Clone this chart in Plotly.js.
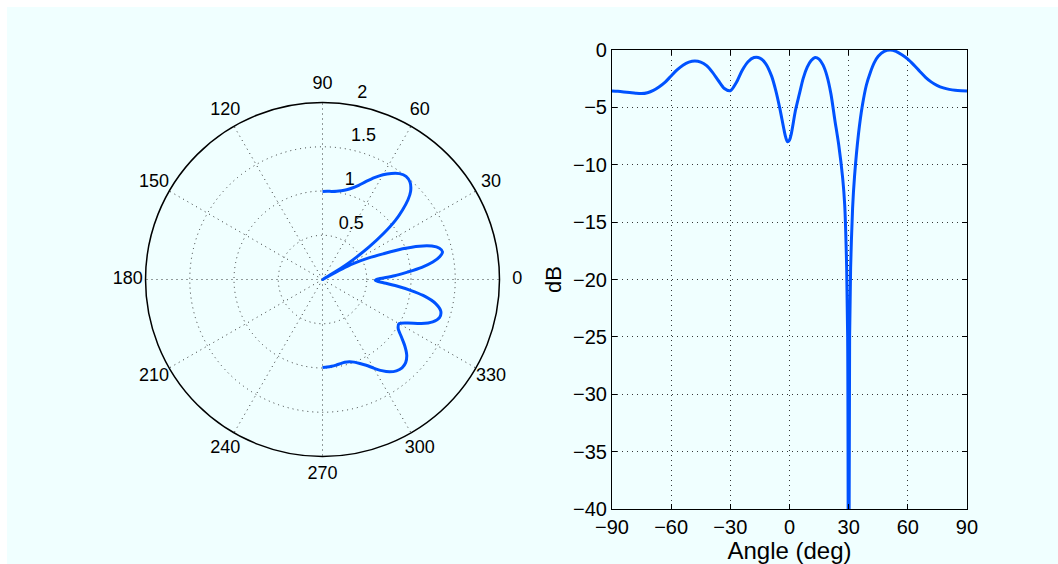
<!DOCTYPE html>
<html>
<head>
<meta charset="utf-8">
<script src="https://cdn.plot.ly/plotly-3.0.1.min.js"></script>
<style>
  html, body { margin: 0; padding: 0; background: #ffffff; }
  #chart { position: absolute; left: 7px; top: 7px; width: 1051px; height: 557px; }
</style>
</head>
<body>
<div id="chart"></div>
<script>
// Angle (deg) of each sample
const angles = [-90,-87,-84,-81,-78,-75,-72,-69,-66,-63,-60,-57,-54,-51,-48,-45,-42,-39,-36,-33,-30,-27,-24,-21,-18,-15,-12,-9,-7,-5,-3,-2,-1,0,1,3,5,7,9,11,13,15,17,19,21,23,25,27,28,29,29.5,30,30.5,31,32,33,35,37,39,41,43,45,48,51,54,57,60,63,66,69,72,75,78,81,84,87,90];
// Pattern in dB (right panel)
const patternDb = [-3.57,-3.60,-3.65,-3.71,-3.77,-3.80,-3.72,-3.52,-3.20,-2.80,-2.26,-1.74,-1.32,-1.06,-0.96,-1.05,-1.37,-1.95,-2.68,-3.35,-3.55,-2.85,-1.78,-1.02,-0.66,-0.70,-1.20,-2.30,-3.50,-5.00,-6.75,-7.55,-8.00,-7.85,-7.25,-5.30,-3.85,-2.45,-1.50,-0.92,-0.65,-0.80,-1.30,-2.25,-3.80,-6.10,-8.30,-11.2,-13.5,-19.0,-25,-60,-25,-19.0,-13.8,-11.0,-7.3,-4.8,-3.05,-1.95,-1.10,-0.55,-0.12,0,-0.12,-0.42,-0.80,-1.30,-1.85,-2.38,-2.80,-3.10,-3.30,-3.43,-3.51,-3.55,-3.57];
// Pattern magnitude (left polar panel)
const patternMag = [0.995,0.991,0.986,0.979,0.972,0.969,0.977,1.000,1.038,1.087,1.156,1.228,1.289,1.328,1.343,1.329,1.281,1.198,1.101,1.020,0.998,1.080,1.222,1.334,1.390,1.384,1.307,1.151,1.002,0.843,0.689,0.629,0.597,0.608,0.651,0.815,0.963,1.131,1.262,1.349,1.392,1.368,1.292,1.158,0.969,0.743,0.577,0.413,0.317,0.168,0.084,0.0015,0.084,0.168,0.306,0.423,0.647,0.863,1.057,1.198,1.321,1.408,1.479,1.5,1.479,1.429,1.368,1.292,1.213,1.140,1.087,1.050,1.026,1.010,1.001,0.998,0.995];

// Tick labels
const polarAngleTicks = [0,30,60,90,120,150,180,210,240,270,300,330];
const polarAngleLabels = ['0','30','60','90','120','150','180','210','240','270','300','330'];
const polarRadialTicks = [0.5,1,1.5,2];
const polarRadialLabels = ['0.5','1','1.5','2'];
const xTicks = [-90,-60,-30,0,30,60,90];
const yTicks = [0,-5,-10,-15,-20,-25,-30,-35,-40];

const BLUE = 'rgb(0,82,255)';
const FONT = 'Liberation Sans, Arial, Helvetica, sans-serif';
const GRID = 'rgba(20,20,20,0.85)';
const RMAX = 2;

// Label placement, MATLAB polar style: angle labels at 1.1*rmax,
// radial labels just outside each ring along the 82 degree spoke.
const deg = Math.PI / 180;
const radLabelShift = 0.11; // small rightward offset of ring labels (data units)
const radLabelXY = polarRadialTicks.map(v => [
  (v + 0.025) * Math.cos(82 * deg) + radLabelShift,
  (v + 0.025) * Math.sin(82 * deg)
]);
const radLabelR = radLabelXY.map(p => Math.hypot(p[0], p[1]));
const radLabelT = radLabelXY.map(p => Math.atan2(p[1], p[0]) / deg);

const traces = [
  {
    type: 'scatterpolar', subplot: 'polar', mode: 'lines',
    r: patternMag, theta: angles,
    line: {color: BLUE, width: 3, shape: 'spline', smoothing: 0.8},
    hoverinfo: 'skip', showlegend: false
  },
  {
    type: 'scatterpolar', subplot: 'polar2', mode: 'text',
    r: polarAngleTicks.map(() => 1.1 * RMAX), theta: polarAngleTicks,
    text: polarAngleLabels, textposition: 'middle center',
    textfont: {family: FONT, size: 18, color: '#000'},
    cliponaxis: false, hoverinfo: 'skip', showlegend: false
  },
  {
    type: 'scatterpolar', subplot: 'polar2', mode: 'text',
    r: radLabelR, theta: radLabelT,
    text: polarRadialLabels, textposition: 'top right',
    textfont: {family: FONT, size: 18, color: '#000'},
    cliponaxis: false, hoverinfo: 'skip', showlegend: false
  },
  {
    type: 'scatter', mode: 'lines', xaxis: 'x', yaxis: 'y',
    x: angles, y: patternDb,
    line: {color: BLUE, width: 3, shape: 'spline', smoothing: 0.8},
    hoverinfo: 'skip', showlegend: false
  }
];

const layout = {
  width: 1051, height: 557,
  margin: {l: 0, r: 0, t: 0, b: 0},
  paper_bgcolor: '#f0ffff',
  plot_bgcolor: '#f0ffff',
  font: {family: FONT, size: 20, color: '#000'},
  showlegend: false,
  polar2: {
    domain: {x: [0.11075, 0.48963], y: [0.15332, 0.86822]},
    bgcolor: 'rgba(0,0,0,0)',
    radialaxis: {visible: false, range: [0, 2.25]},
    angularaxis: {
      rotation: 0, direction: 'counterclockwise',
      showline: false, showgrid: false, showticklabels: false, ticks: ''
    }
  },
  polar: {
    domain: {x: [0.1318, 0.4686], y: [0.193, 0.8285]},
    bgcolor: '#f0ffff',
    radialaxis: {
      range: [0, RMAX], tickvals: polarRadialTicks, showticklabels: false,
      ticks: '', showline: false, angle: 82,
      showgrid: true, gridcolor: GRID, gridwidth: 1, griddash: '1px,4px'
    },
    angularaxis: {
      rotation: 0, direction: 'counterclockwise',
      tickvals: polarAngleTicks, showticklabels: false, ticks: '',
      showline: true, linecolor: '#000', linewidth: 1.5,
      showgrid: true, gridcolor: GRID, gridwidth: 1, griddash: '1px,4px'
    }
  },
  xaxis: {
    domain: [0.5756, 0.9134], range: [-90, 90], tickvals: xTicks,
    ticks: 'inside', ticklen: 5, tickcolor: '#000', tickwidth: 1,
    showline: true, linecolor: '#000', linewidth: 1, mirror: 'ticks',
    showgrid: true, gridcolor: GRID, gridwidth: 1, griddash: '1px,4px',
    zeroline: false, tickfont: {size: 20},
    title: {text: 'Angle (deg)', font: {size: 24}, standoff: 2}
  },
  yaxis: {
    domain: [0.0987, 0.9228], range: [-40, 0], tickvals: yTicks,
    ticks: 'inside', ticklen: 5, tickcolor: '#000', tickwidth: 1,
    showline: true, linecolor: '#000', linewidth: 1, mirror: 'ticks',
    showgrid: true, gridcolor: GRID, gridwidth: 1, griddash: '1px,4px',
    zeroline: false, tickfont: {size: 20},
    title: {text: 'dB', font: {size: 22}, standoff: 5}
  }
};

Plotly.newPlot('chart', traces, layout, {displayModeBar: false, staticPlot: true});
</script>
</body>
</html>
